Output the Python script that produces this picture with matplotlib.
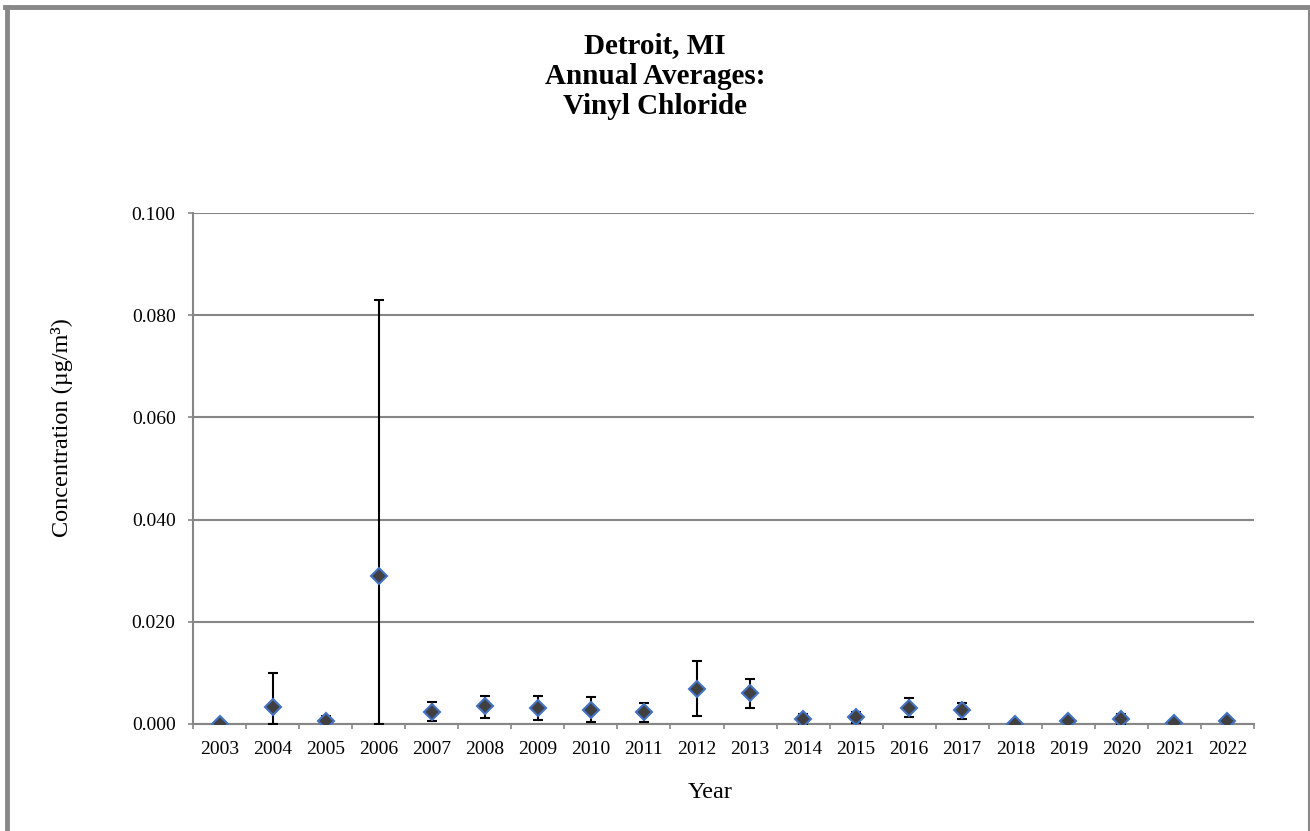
import matplotlib
matplotlib.use('Agg')
import matplotlib.pyplot as plt
from matplotlib.lines import Line2D

plt.rcParams['font.family'] = ['Liberation Serif', 'DejaVu Serif']

# Datos
years = ['2003', '2004', '2005', '2006', '2007', '2008', '2009', '2010', '2011', '2012',
         '2013', '2014', '2015', '2016', '2017', '2018', '2019', '2020', '2021', '2022']
mean = [0.0000, 0.0034, 0.0006, 0.0289, 0.0024, 0.0035, 0.0031, 0.0028, 0.0023, 0.0068,
        0.0061, 0.0009, 0.0014, 0.0032, 0.0027, 0.0000, 0.0005, 0.0009, 0.0001, 0.0005]
lower = [0.0000, 0.0000, 0.0000, 0.0000, 0.0005, 0.0012, 0.0007, 0.0004, 0.0003, 0.0016,
         0.0031, 0.0000, 0.0001, 0.0013, 0.0010, 0.0000, 0.0005, 0.0000, 0.0001, 0.0005]
upper = [0.0000, 0.0099, 0.0016, 0.0830, 0.0044, 0.0055, 0.0055, 0.0053, 0.0042, 0.0123,
         0.0089, 0.0020, 0.0024, 0.0050, 0.0042, 0.0000, 0.0005, 0.0020, 0.0001, 0.0005]
y_ticks = [0.000, 0.020, 0.040, 0.060, 0.080, 0.100]

W, H = 1310, 831
fig = plt.figure(figsize=(W / 100, H / 100), dpi=100)
ax = fig.add_axes([193 / W, 107 / H, 1061 / W, 511 / H])

x = list(range(len(years)))
err_lo = [m - l for m, l in zip(mean, lower)]
err_hi = [u - m for m, u in zip(mean, upper)]

ax.errorbar(x, mean, yerr=[err_lo, err_hi], fmt='none', ecolor='black',
            elinewidth=1.5, capsize=3.8, capthick=1.5, zorder=3)
ax.plot(x, mean, linestyle='none', marker='D', markersize=8,
        markerfacecolor='#404040', markeredgecolor='#4472C4', markeredgewidth=1.5, zorder=4)

ax.set_xlim(-0.5, len(years) - 0.5)
ax.set_ylim(0, 0.1)
ax.set_yticks(y_ticks)
ax.set_yticklabels([f'{v:.3f}' for v in y_ticks])
ax.set_xticks(x)
ax.set_xticklabels(years)
ax.set_xticks([i - 0.5 for i in range(len(years) + 1)], minor=True)

ax.grid(axis='y', color='#868686', linewidth=1.5)
ax.set_axisbelow(True)
for s in ['top', 'right']:
    ax.spines[s].set_visible(False)
for s in ['left', 'bottom']:
    ax.spines[s].set_color('#868686')
    ax.spines[s].set_linewidth(1.5)

ax.tick_params(axis='y', length=3.6, width=1.2, color='#868686', pad=9, labelsize=14)
ax.tick_params(axis='x', which='major', length=0, pad=12, labelsize=14)
ax.tick_params(axis='x', which='minor', length=3.6, width=1.2, color='#868686')

fig.text(62 / W, 1 - 428 / H, 'Concentration (µg/m³)', rotation=90,
         ha='center', va='center', fontsize=17.5)
fig.text(710 / W, 1 - 792 / H, 'Year', ha='center', va='center', fontsize=17.5)
fig.text(655 / W, 1 - 76 / H, 'Detroit, MI\nAnnual Averages:\nVinyl Chloride',
         ha='center', va='center', fontsize=21, fontweight='bold', linespacing=1.15)

# Marco del gráfico
border = '#888888'
fig.add_artist(Line2D([7 / W, 7 / W], [0, 1 - 7 / H], color=border, linewidth=3.5,
                      transform=fig.transFigure))
fig.add_artist(Line2D([5 / W, 1309 / W], [1 - 7 / H, 1 - 7 / H], color=border, linewidth=3.5,
                      transform=fig.transFigure))
fig.add_artist(Line2D([1308.5 / W, 1308.5 / W], [0, 1 - 7 / H], color=border, linewidth=1.5,
                      transform=fig.transFigure))

fig.savefig('out.png', dpi=100)
